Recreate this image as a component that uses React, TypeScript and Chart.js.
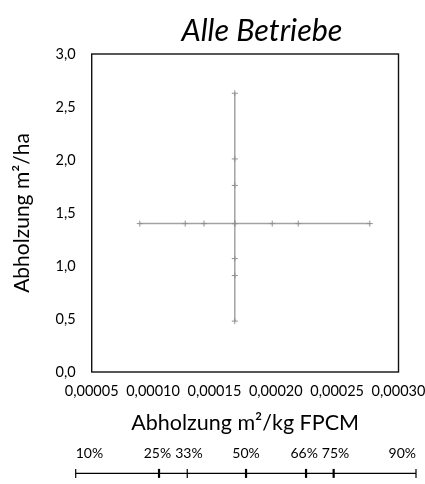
import React, { useEffect, useRef } from 'react';
import { Chart, registerables } from 'chart.js';

Chart.register(...registerables);

// ---- text ----
const chartTitle = 'Alle Betriebe';
const xAxisTitle = 'Abholzung m²/kg FPCM';
const yAxisTitle = 'Abholzung m²/ha';

// ---- tick values ----
const xTickValues = [0.00005, 0.0001, 0.00015, 0.0002, 0.00025, 0.0003];
const yTickValues = [0, 0.5, 1, 1.5, 2, 2.5, 3];

// ---- series: horizontal spread (x varies at constant y) ----
const horizontalX = [0.0000892, 0.0001262, 0.0001415, 0.0001666, 0.0001971, 0.0002183, 0.0002766];
const horizontalY = 1.4;

// ---- series: vertical spread (y varies at constant x) ----
const verticalX = 0.0001666;
const verticalY = [0.48, 0.91, 1.07, 1.4, 1.76, 2.01, 2.63];

// ---- percentile bar ----
const percentileLabels = ['10%', '25%', '33%', '50%', '66%', '75%', '90%'];
const percentileValues = [0.000037, 0.0001049, 0.0001279, 0.0001758, 0.0002247, 0.0002472, 0.0003143];

const FONT = 'Lato, "Open Sans", "DejaVu Sans", sans-serif';
const TEXT = '#000';
const SERIES = '#a3a3a3';
const emphasizedTicks = ['25%', '50%', '66%', '75%'];

const frameAndTitle = {
  id: 'frameAndTitle',
  afterDraw(chart: any) {
    const { ctx, chartArea } = chart;
    const { left, right, top, bottom } = chartArea;
    ctx.save();
    ctx.strokeStyle = '#111';
    ctx.lineWidth = 1.4;
    ctx.strokeRect(left, top, right - left, bottom - top);
    ctx.fillStyle = TEXT;
    ctx.font = `italic 30.5px ${FONT}`;
    ctx.textAlign = 'center';
    ctx.textBaseline = 'middle';
    ctx.fillText(chartTitle, left + (right - left) * 0.555, top - 23);
    ctx.restore();
  },
};

// Draws the percentile labels above their ticks, pushing neighbours apart if they overlap.
const percentileLabelsPlugin = {
  id: 'percentileLabels',
  afterDraw(chart: any) {
    const { ctx, chartArea, scales } = chart;
    const xs = scales.x;
    ctx.save();
    ctx.font = `14px ${FONT}`;
    ctx.fillStyle = TEXT;
    ctx.textBaseline = 'middle';
    ctx.textAlign = 'left';
    const n = percentileLabels.length;
    const widths = percentileLabels.map((t) => ctx.measureText(t).width);
    const lefts = percentileValues.map((v, i) => {
      const px = xs.getPixelForValue(v);
      if (i === 0) return px;
      if (i === n - 1) return px - widths[i];
      return px - widths[i] / 2;
    });
    const gap = 4;
    for (let pass = 0; pass < 3; pass++) {
      for (let i = 1; i < n - 1; i++) {
        const overlap = lefts[i - 1] + widths[i - 1] + gap - lefts[i];
        if (overlap > 0) {
          if (i - 1 !== 0) lefts[i - 1] -= overlap / 2;
          lefts[i] += overlap / 2 + (i - 1 === 0 ? overlap / 2 : 0);
        }
      }
    }
    percentileLabels.forEach((t, i) => ctx.fillText(t, lefts[i], chartArea.top - 15.5));
    ctx.restore();
  },
};

export default function App() {
  const mainRef = useRef<HTMLCanvasElement>(null);
  const pctRef = useRef<HTMLCanvasElement>(null);

  useEffect(() => {
    const seriesStyle = {
      showLine: true,
      borderColor: SERIES,
      borderWidth: 1.5,
      pointStyle: 'cross',
      pointRadius: 3,
      pointBorderWidth: 1,
      pointBorderColor: '#8f8f8f',
      pointBackgroundColor: SERIES,
    };
    const main = new Chart(mainRef.current!, {
      type: 'scatter',
      data: {
        datasets: [
          { data: horizontalX.map((x) => ({ x, y: horizontalY })), ...seriesStyle },
          { data: verticalY.map((y) => ({ x: verticalX, y })), ...seriesStyle },
        ],
      },
      options: {
        animation: false,
        responsive: false,
        layout: { padding: { top: 54, right: 26.5, left: 0, bottom: 0 } },
        plugins: {
          legend: { display: false },
          tooltip: { enabled: false },
          title: { display: false },
        },
        scales: {
          x: {
            type: 'linear',
            min: xTickValues[0],
            max: xTickValues[xTickValues.length - 1],
            afterBuildTicks: (s: any) => {
              s.ticks = xTickValues.map((value) => ({ value }));
            },
            afterFit: (s: any) => {
              s.height = 68;
              s.paddingLeft = 0;
              s.paddingRight = 0;
            },
            grid: { display: false, drawTicks: false },
            border: { display: false },
            ticks: {
              autoSkip: false,
              maxRotation: 0,
              padding: 11,
              color: TEXT,
              font: { family: FONT, size: 14.5 },
              callback: (v: any) => Number(v).toFixed(5).replace('.', ','),
            },
            title: {
              display: true,
              text: xAxisTitle,
              color: TEXT,
              font: { family: FONT, size: 21.5 },
              padding: { top: 0, bottom: 4 },
            },
          },
          y: {
            type: 'linear',
            min: yTickValues[0],
            max: yTickValues[yTickValues.length - 1],
            afterBuildTicks: (s: any) => {
              s.ticks = yTickValues.map((value) => ({ value }));
            },
            afterFit: (s: any) => {
              s.width = 91.7;
              s.paddingTop = 0;
              s.paddingBottom = 0;
            },
            grid: { display: false, drawTicks: false },
            border: { display: false },
            ticks: {
              autoSkip: false,
              padding: 16,
              color: TEXT,
              font: { family: FONT, size: 14.5 },
              callback: (v: any) => Number(v).toFixed(1).replace('.', ','),
            },
            title: {
              display: true,
              text: yAxisTitle,
              color: TEXT,
              font: { family: FONT, size: 21 },
              padding: { top: 10, bottom: 0 },
            },
          },
        },
      },
      plugins: [frameAndTitle],
    } as any);

    const pct = new Chart(pctRef.current!, {
      type: 'scatter',
      data: {
        datasets: [
          {
            data: percentileValues.map((x) => ({ x, y: 0 })),
            showLine: true,
            borderColor: '#000',
            borderWidth: 1.3,
            pointStyle: 'line',
            pointRotation: 90,
            pointRadius: 4.5,
            pointBorderColor: '#000',
            pointBorderWidth: (c: any) =>
              emphasizedTicks.includes(percentileLabels[c.dataIndex]) ? 2.2 : 1.2,
            clip: false,
          },
        ],
      },
      options: {
        animation: false,
        responsive: false,
        layout: { padding: { top: 0, right: 9, left: 75.7, bottom: 5.5 } },
        plugins: {
          legend: { display: false },
          tooltip: { enabled: false },
        },
        scales: {
          x: {
            type: 'linear',
            position: 'top',
            min: percentileValues[0],
            max: percentileValues[percentileValues.length - 1],
            afterBuildTicks: (s: any) => {
              s.ticks = percentileValues.map((value) => ({ value }));
            },
            afterFit: (s: any) => {
              s.height = 28.5;
              s.paddingLeft = 0;
              s.paddingRight = 0;
            },
            grid: { display: false, drawTicks: false },
            border: { display: false },
            ticks: { display: false },
          },
          y: { display: false, min: -1, max: 1 },
        },
      },
      plugins: [percentileLabelsPlugin],
    } as any);

    return () => {
      main.destroy();
      pct.destroy();
    };
  }, []);

  return (
    <div style={{ position: 'absolute', left: 0, top: 0, width: 425, height: 484, background: '#fff' }}>
      <canvas ref={mainRef} width={425} height={440} style={{ display: 'block' }} />
      <canvas ref={pctRef} width={425} height={44} style={{ display: 'block' }} />
    </div>
  );
}
